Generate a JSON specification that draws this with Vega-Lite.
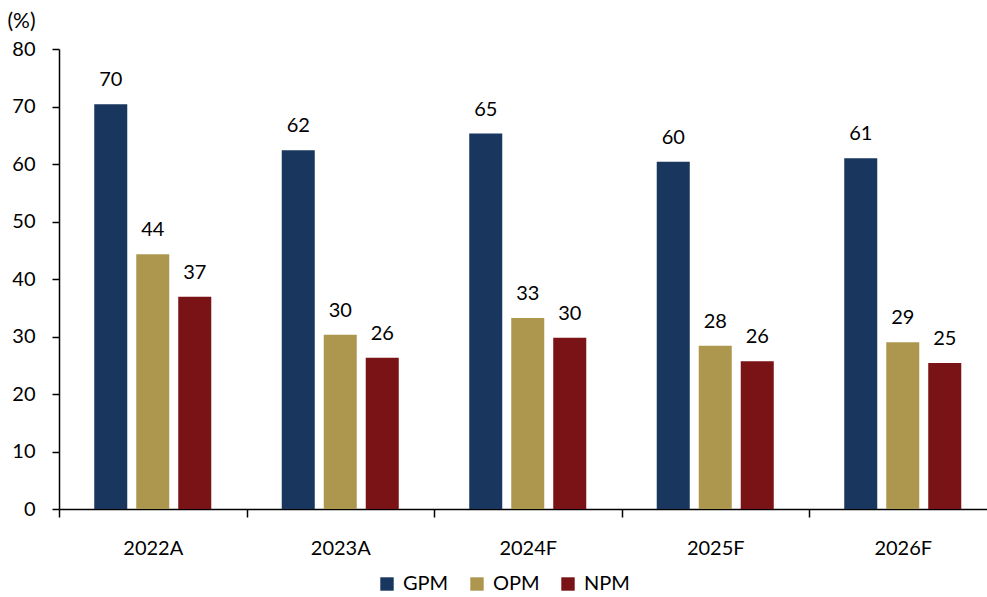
{
  "$schema": "https://vega.github.io/schema/vega-lite/v6.json",
  "autosize": {"type": "none"},
  "padding": {"left": 59, "top": 49, "right": 0, "bottom": 88},
  "width": 928,
  "height": 460,
  "background": "white",
  "config": {
    "view": {"stroke": null},
    "font": "Lato",
    "axis": {"grid": false, "domainColor": "black", "tickColor": "black", "labelColor": "black", "titleColor": "black", "labelFontSize": 20, "domainWidth": 1.5, "tickWidth": 1.5, "labelFont": "Lato"}
  },
  "data": {
    "values": [
      {"year": "2022A", "series": "GPM", "value": 70.4},
      {"year": "2022A", "series": "OPM", "value": 44.3},
      {"year": "2022A", "series": "NPM", "value": 36.9},
      {"year": "2023A", "series": "GPM", "value": 62.4},
      {"year": "2023A", "series": "OPM", "value": 30.3},
      {"year": "2023A", "series": "NPM", "value": 26.3},
      {"year": "2024F", "series": "GPM", "value": 65.3},
      {"year": "2024F", "series": "OPM", "value": 33.2},
      {"year": "2024F", "series": "NPM", "value": 29.8},
      {"year": "2025F", "series": "GPM", "value": 60.4},
      {"year": "2025F", "series": "OPM", "value": 28.4},
      {"year": "2025F", "series": "NPM", "value": 25.7},
      {"year": "2026F", "series": "GPM", "value": 61.0},
      {"year": "2026F", "series": "OPM", "value": 29.0},
      {"year": "2026F", "series": "NPM", "value": 25.4}
    ]
  },
  "encoding": {
    "x": {
      "field": "year", "type": "nominal", "sort": null,
      "scale": {"range": [0, 937.5], "paddingInner": 0, "paddingOuter": 0},
      "axis": {"title": null, "labelAngle": 0, "tickBand": "extent", "tickSize": 8, "labelPadding": 21, "labelBaseline": "top"}
    },
    "xOffset": {
      "field": "series", "type": "nominal", "sort": ["GPM", "OPM", "NPM"],
      "scale": {"paddingInner": 0.214, "paddingOuter": 0.839}
    },
    "y": {
      "field": "value", "type": "quantitative",
      "scale": {"domain": [0, 80], "nice": false},
      "axis": {"values": [0, 10, 20, 30, 40, 50, 60, 70, 80], "tickSize": 7, "labelPadding": 17, "title": "(%)", "titleAngle": 0, "titleX": -52, "titleY": -28, "titleAlign": "left", "titleBaseline": "middle", "titleFontSize": 21, "titleFontWeight": "normal", "titleFont": "Lato"}
    }
  },
  "layer": [
    {
      "mark": {"type": "bar"},
      "encoding": {
        "color": {
          "field": "series", "type": "nominal", "sort": ["GPM", "OPM", "NPM"],
          "scale": {"domain": ["GPM", "OPM", "NPM"], "range": ["#19375E", "#AD974F", "#7A1315"]},
          "legend": {"title": null, "orient": "none", "legendX": 318, "legendY": 525, "direction": "horizontal", "symbolType": "square", "symbolSize": 180, "symbolStrokeWidth": 0, "labelFontSize": 20, "labelFont": "Lato", "labelColor": "black", "labelOffset": 6, "columnPadding": 18}
        }
      }
    },
    {
      "mark": {"type": "text", "fontSize": 20, "font": "Lato", "color": "black", "baseline": "alphabetic", "dy": -18},
      "encoding": {
        "text": {"field": "value", "type": "quantitative", "format": ".0f"}
      }
    }
  ]
}
